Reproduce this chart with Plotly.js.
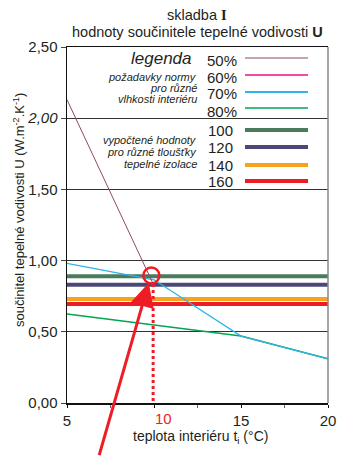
<!DOCTYPE html>
<html><head><meta charset="utf-8">
<script src="https://cdn.plot.ly/plotly-3.0.1.min.js"></script>
<style>body{margin:0;background:#fff}#c{width:337px;height:457px}</style>
</head><body><div id="c"></div>
<script>
// data
const x50 = [5, 9.9];
const u50 = [2.13, 0.85];
const x70 = [5, 10, 15, 20];
const u70 = [0.98, 0.865, 0.47, 0.31];
const x80 = [5, 15, 20];
const u80 = [0.625, 0.47, 0.31];
const xIso = [5, 20];
const isoNames = ['100', '120', '140', '160'];
const isoU = [0.89, 0.83, 0.73, 0.695];
const isoColors = ['#4a7b5b', '#4b4878', '#f7a21b', '#ee1c25'];
const rhNames = ['50%', '60%', '70%', '80%'];
const rhColors = ['#8c4a66', '#f24aa6', '#2eb3ea', '#00a651'];
const rhWidths = [1, 2, 2, 1.5];
const markX = 9.95;        // read temperature
const markU = 0.895;       // intersection value
const markLabel = '10';
const xTickVals = [5, 10, 15, 20];
const xTickText = ['5', '', '15', '20'];
const yTickVals = [0, 0.5, 1, 1.5, 2, 2.5];
const yTickText = ['0,00', '0,50', '1,00', '1,50', '<i>2,00</i>', '2,50'];

const traces = [];
isoU.forEach((u, i) => traces.push({x: xIso, y: [u, u], mode: 'lines', line: {color: isoColors[i], width: 4}, hoverinfo: 'skip'}));
traces.push({x: x80, y: u80, mode: 'lines', line: {color: rhColors[3], width: 1.5}});
traces.push({x: x70, y: u70, mode: 'lines', line: {color: rhColors[2], width: 1.3}});
traces.push({x: x50, y: u50, mode: 'lines', line: {color: rhColors[0], width: 1}});
traces.push({x: [markX, markX], y: [markU - 0.06, 0], mode: 'lines', line: {color: '#ee1c25', width: 3, dash: 'dot'}});

const px = p => (p - 67) / 261;
const py = p => (403 - p) / 356;
const shapes = [];
const ann = [];
const font = 'Liberation Sans, Arial, sans-serif';
const tc = '#231f20';
const rhLineY = [58, 75, 92, 108];
const rhTextY = [60, 77, 93, 111];
rhNames.forEach((n, i) => {
  shapes.push({type: 'line', xref: 'paper', yref: 'paper', x0: px(245), x1: px(308), y0: py(rhLineY[i]), y1: py(rhLineY[i]), line: {color: rhColors[i], width: rhWidths[i]}});
  ann.push({xref: 'paper', yref: 'paper', x: px(205), y: py(rhTextY[i]), xanchor: 'left', yanchor: 'middle', text: n, showarrow: false, font: {size: 15, color: tc, family: font}});
});
const isoLineY = [130, 147, 165, 181];
isoNames.forEach((n, i) => {
  shapes.push({type: 'line', xref: 'paper', yref: 'paper', x0: px(245), x1: px(308), y0: py(isoLineY[i]), y1: py(isoLineY[i]), line: {color: isoColors[i], width: 4}});
  ann.push({xref: 'paper', yref: 'paper', x: px(206), y: py(isoLineY[i]), xanchor: 'left', yanchor: 'middle', text: n, showarrow: false, font: {size: 15, color: tc, family: font}});
});
ann.push({xref: 'paper', yref: 'paper', x: px(194), y: py(58), xanchor: 'right', yanchor: 'middle', text: '<i>legenda</i>', showarrow: false, font: {size: 17, color: tc, family: font}});
[['požadavky normy', 77], ['pro různé', 88], ['vlhkosti interiéru', 99], ['vypočtené hodnoty', 140], ['pro různé tloušťky', 152], ['tepelné izolace', 164]].forEach(t => {
  ann.push({xref: 'paper', yref: 'paper', x: px(199), y: py(t[1]), xanchor: 'right', yanchor: 'middle', text: '<i>' + t[0] + '</i>', showarrow: false, font: {size: 11, color: tc, family: font}});
});
shapes.push({type: 'line', xref: 'paper', yref: 'paper', x0: 1, x1: 1, y0: 0, y1: 1, line: {color: '#888', width: 1.5}});
shapes.push({type: 'circle', xref: 'x', yref: 'y', xsizemode: 'pixel', ysizemode: 'pixel', xanchor: 9.85, yanchor: markU, x0: -8, x1: 8, y0: -8, y1: 8, line: {color: '#ee1c25', width: 2.5}});
ann.push({xref: 'x', yref: 'y', x: 9.7, y: 0.845, ax: -50, ay: 174, text: '', showarrow: true, arrowhead: 2, arrowsize: 1.6, arrowwidth: 3, arrowcolor: '#ee1c25'});
// red tick label for the read value
ann.push({xref: 'x', yref: 'paper', x: markX, y: py(418), xanchor: 'left', yanchor: 'middle', text: markLabel, showarrow: false, font: {size: 15, color: '#ee1c25', family: font}});
ann.push({xref: 'paper', yref: 'paper', x: px(197), y: py(15), xanchor: 'center', yanchor: 'middle', text: 'skladba <span style="font-family:Liberation Serif"><b>I</b></span>', showarrow: false, font: {size: 14.5, color: tc, family: font}});
ann.push({xref: 'paper', yref: 'paper', x: px(197), y: py(32), xanchor: 'center', yanchor: 'middle', text: 'hodnoty součinitele tepelné vodivosti <b>U</b>', showarrow: false, font: {size: 14.5, color: tc, family: font}});
ann.push({xref: 'paper', yref: 'paper', x: px(200), y: py(437), xanchor: 'center', yanchor: 'middle', text: 'teplota interiéru t<sub>i</sub> (°C)', showarrow: false, font: {size: 14, color: tc, family: font}});
ann.push({xref: 'paper', yref: 'paper', x: px(19), y: py(210), xanchor: 'center', yanchor: 'middle', textangle: -90, text: 'součinitel tepelné vodivosti U (W.m<sup>-2</sup>.K<sup>-1</sup>)', showarrow: false, font: {size: 13, color: tc, family: font}});

const layout = {
  width: 337, height: 457,
  margin: {l: 67, r: 9, t: 47, b: 54},
  paper_bgcolor: '#fff', plot_bgcolor: '#fff',
  showlegend: false,
  font: {family: font, color: tc},
  xaxis: {range: [5, 20], tickvals: xTickVals, ticktext: xTickText, showgrid: false, zeroline: false,
    showline: true, mirror: true, linecolor: '#111', linewidth: 1.5, ticks: 'outside', ticklen: 3, tickcolor: '#111',
    minor: {dtick: 2.5, tick0: 5, ticks: 'outside', ticklen: 3, tickcolor: '#666'},
    tickfont: {size: 15, color: tc}},
  yaxis: {range: [0, 2.5], tickvals: yTickVals, ticktext: yTickText, showgrid: true, gridcolor: '#333', gridwidth: 1,
    zeroline: false, showline: true, linecolor: '#111', linewidth: 1.5, ticks: 'outside', ticklen: 5, tickcolor: '#444',
    tickfont: {size: 15, color: tc}},
  shapes: shapes, annotations: ann
};
Plotly.newPlot('c', traces, layout, {displayModeBar: false, staticPlot: true});
</script></body></html>
